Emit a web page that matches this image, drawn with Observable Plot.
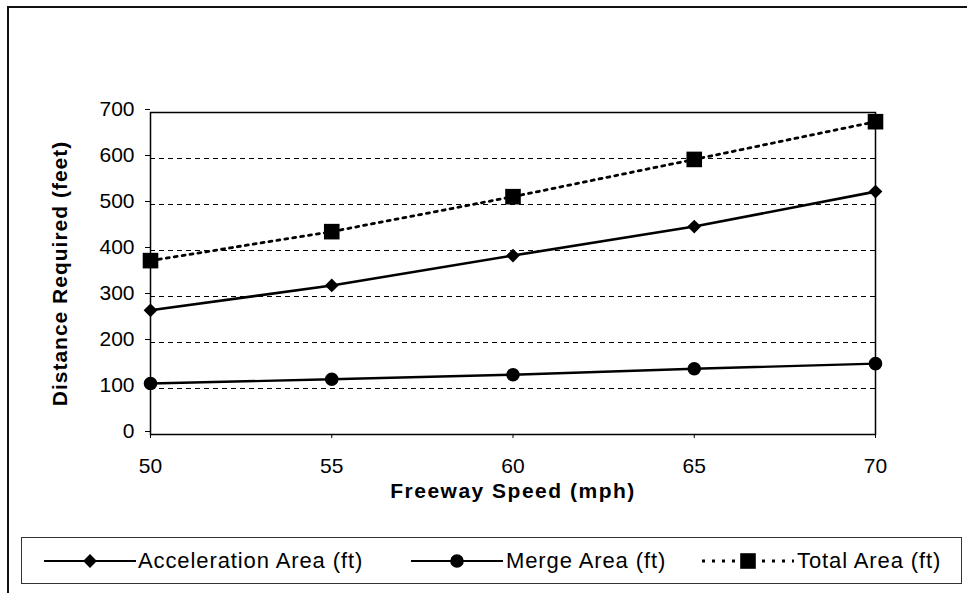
<!DOCTYPE html>
<html><head><meta charset="utf-8">
<script src="https://cdn.jsdelivr.net/npm/d3@7"></script>
<script src="https://cdn.jsdelivr.net/npm/@observablehq/plot@0.6"></script>
<style>
body{margin:0;background:#fff;font-family:"Liberation Sans",Arial,sans-serif;}
#wrap{position:relative;width:967px;height:593px;overflow:hidden;background:#fff}
#frame{position:absolute;left:7px;top:6px;width:970px;height:600px;border-left:2px solid #111;border-top:2px solid #111}
#chart{position:absolute;left:0;top:0}
#chart g[aria-label="y-axis label"] text{font-weight:bold;font-size:21px;letter-spacing:1px}
#chart g[aria-label="x-axis label"] text{font-weight:bold;font-size:21px;letter-spacing:1.5px}
#legend{position:absolute;left:21px;top:537px;width:941px;height:47px;border:1px solid #333;box-sizing:border-box}
.item{position:absolute;top:0;height:45px;display:flex;align-items:center}
.item span{font-size:22px;letter-spacing:0.9px;color:#000;white-space:nowrap}
</style></head><body>
<div id="wrap"><div id="frame"></div><div id="chart"></div><div id="legend"></div></div>
<script>
const speeds = [50, 55, 60, 65, 70];
const acceleration = [270, 324, 389, 452, 528];
const merge = [111, 120, 130, 143, 154];
const total = [378, 441, 517, 598, 680];
const seriesNames = ["Acceleration Area (ft)", "Merge Area (ft)", "Total Area (ft)"];
const yTicks = [0, 100, 200, 300, 400, 500, 600, 700];
const gridValues = [100, 200, 300, 400, 500, 600];

const seriesValues = [acceleration, merge, total];
const rows = seriesNames.flatMap((name, k) => speeds.map((s, i) => ({series: name, speed: s, value: seriesValues[k][i]})));
const styles = {
  "Acceleration Area (ft)": {symbol: "diamond2", r: 6.2, dash: null, width: 2.6},
  "Merge Area (ft)": {symbol: "circle", r: 6.8, dash: null, width: 2.4},
  "Total Area (ft)": {symbol: "square", r: 8.8, dash: "3,5", width: 2.8}
};

const lineMarks = seriesNames.flatMap(name => {
  const data = rows.filter(d => d.series === name);
  const st = styles[name];
  return [
    Plot.line(data, {x: "speed", y: "value", stroke: "#000", strokeWidth: st.width, strokeDasharray: st.dash ?? undefined}),
    Plot.dot(data, {x: "speed", y: "value", symbol: () => st.symbol, r: st.r, fill: "#000", stroke: "none"})
  ];
});

const chart = Plot.plot({
  width: 967, height: 520,
  marginLeft: 150, marginRight: 92, marginTop: 112, marginBottom: 86,
  style: {fontFamily: "Liberation Sans, Arial, sans-serif", fontSize: "21px", color: "#000", background: "transparent", overflow: "visible"},
  x: {domain: [50, 70]},
  y: {domain: [0, 700]},
  marks: [
    Plot.ruleY(gridValues, {stroke: "#000", strokeWidth: 1, strokeDasharray: "5,4"}),
    Plot.frame({stroke: "#000", strokeWidth: 1.5}),
    Plot.axisY({ticks: yTicks, tickSize: 5, tickPadding: 11, fontSize: 21, dy: -3, label: "Distance Required (feet)", labelAnchor: "center", labelArrow: "none", labelOffset: 98}),
    Plot.axisX({ticks: speeds, tickSize: 4, tickPadding: 20, fontSize: 21, label: "Freeway Speed (mph)", labelAnchor: "center", labelArrow: "none", labelOffset: 63}),
    ...lineMarks
  ]
});
document.getElementById("chart").appendChild(chart);

// legend
const legend = document.getElementById("legend");
const legendPos = [{sym: 22, text: 116}, {sym: 389, text: 484}, {sym: 680, text: 775}];
seriesNames.forEach((name, k) => {
  const st = styles[name];
  const sw = document.createElementNS("http://www.w3.org/2000/svg", "svg");
  sw.setAttribute("width", 92); sw.setAttribute("height", 24);
  const sym = d3.symbol(d3["symbol" + {diamond2: "Diamond2", circle: "Circle", square: "Square"}[st.symbol]], st.r * st.r * Math.PI)();
  sw.innerHTML = `<line x1="0" x2="92" y1="12" y2="12" stroke="#000" stroke-width="${st.dash ? 3 : 2.2}" ${st.dash ? 'stroke-dasharray="3,7"' : ''}/>`
    + `<path transform="translate(46,12)" d="${sym}" fill="#000"/>`;
  const d1 = document.createElement("div");
  d1.className = "item"; d1.style.left = legendPos[k].sym + "px";
  d1.appendChild(sw);
  const d2 = document.createElement("div");
  d2.className = "item"; d2.style.left = legendPos[k].text + "px";
  d2.innerHTML = `<span>${name}</span>`;
  legend.appendChild(d1); legend.appendChild(d2);
});
</script>
</body></html>
